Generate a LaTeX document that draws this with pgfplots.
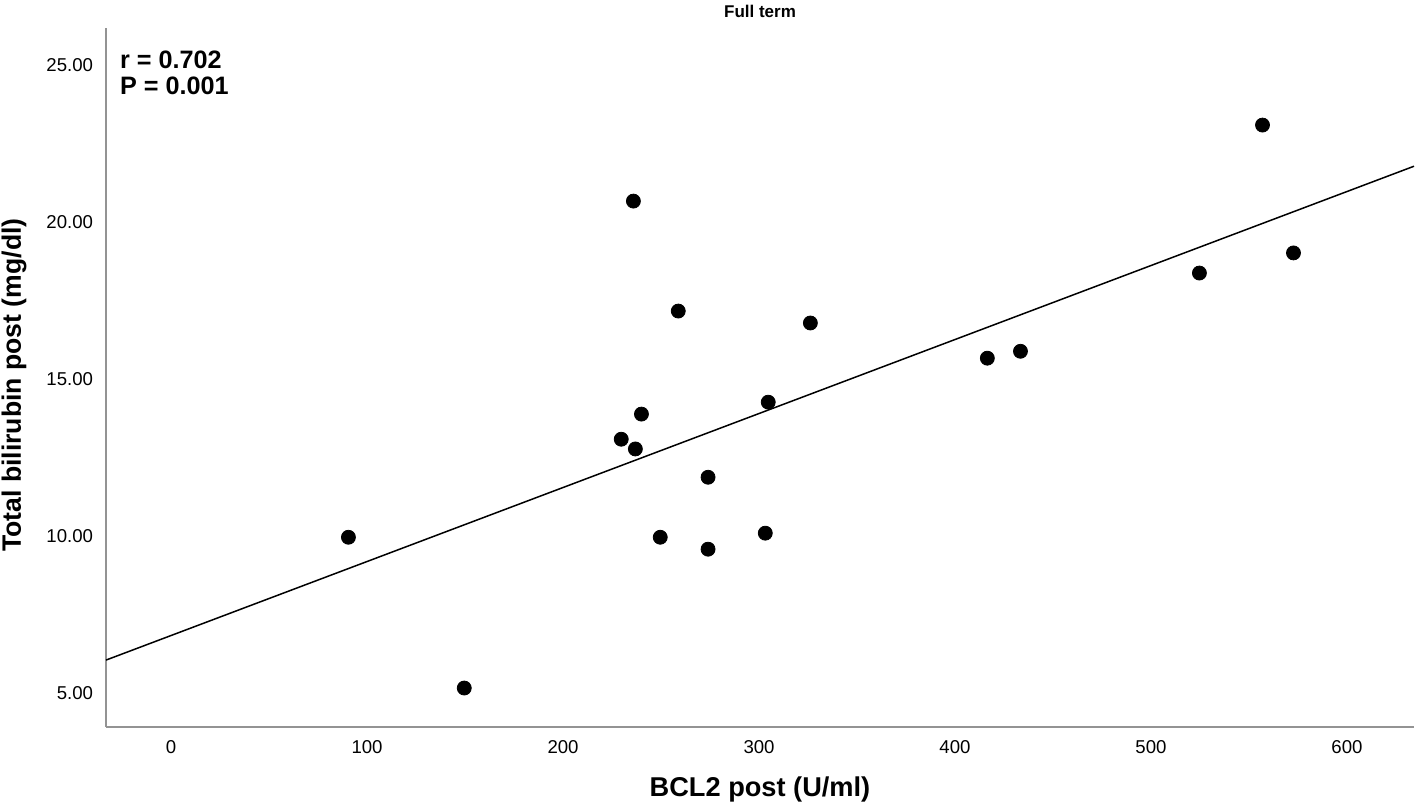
\documentclass[border=0pt]{standalone}
\usepackage{fontspec}
\setmainfont{Liberation Sans}
\usepackage{pgfplots}
\pgfplotsset{compat=1.18}
\begin{document}
\begin{tikzpicture}
\useasboundingbox (-53bp,-41bp) rectangle (656bp,363.5bp);
\begin{axis}[
  at={(0,0)}, anchor=south west,
  scale only axis,
  width=654bp, height=349.5bp,
  xmin=-33.2, xmax=634.2,
  ymin=3.93, ymax=26.18,
  axis x line=bottom, axis y line=left,
  axis line style={-, draw=gray!85, line width=1bp},
  major tick length=0pt,
  xtick={0,100,...,600},
  ytick={5,10,...,25},
  /pgf/number format/assume math mode=true,
  yticklabel style={/pgf/number format/fixed, /pgf/number format/zerofill, /pgf/number format/precision=2, font=\fontsize{9.3bp}{11bp}\selectfont, xshift=-3bp},
  xticklabel style={font=\fontsize{9.3bp}{11bp}\selectfont, yshift=-3bp},
  scaled ticks=false,
  xlabel={\textbf{BCL2 post (U/ml)}},
  ylabel={\textbf{Total bilirubin post (mg/dl)}},
  every axis x label/.style={at={(axis description cs:0.5,-0.09)}, anchor=center, font=\fontsize{13.6bp}{16bp}\selectfont},
  every axis y label/.style={at={(axis description cs:-0.0703,0.489)}, anchor=center, rotate=90, font=\fontsize{13.3bp}{16bp}\selectfont},
  title={\textbf{Full term}},
  every axis title/.style={at={(axis description cs:0.5,1.023)}, anchor=center, font=\fontsize{8.5bp}{10bp}\selectfont},
  clip=false,
]
\addplot[black, line width=0.75bp] coordinates {(-33.2,6.06) (634.2,21.78)};
\addplot[only marks, mark=*, mark size=3.5bp, black] coordinates {
(90.5,9.97) (149.6,5.17) (229.7,13.09) (235.9,20.67) (236.9,12.78)
(240,13.89) (249.6,9.97) (258.8,17.17) (274,11.88) (274,9.59)
(303.2,10.10) (304.7,14.27) (326.2,16.79) (416.5,15.67) (433.4,15.89)
(524.7,18.38) (556.9,23.09) (572.7,19.02)
};
\node[anchor=north west, align=left, inner sep=0pt, font=\bfseries\fontsize{12.6bp}{13bp}\selectfont] at (axis description cs:0.0105,0.9685) {r = 0.702\\P = 0.001};
\end{axis}
\end{tikzpicture}
\end{document}
